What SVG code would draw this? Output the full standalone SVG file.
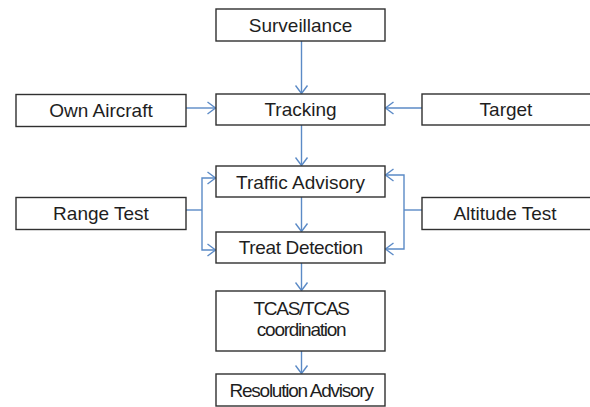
<svg xmlns="http://www.w3.org/2000/svg" width="590" height="407" viewBox="0 0 590 407">
<defs>
<style>
.box{fill:#fff;stroke:#303030;stroke-width:1.4}
.t{font-family:"Liberation Sans",Arial,sans-serif;font-size:19px;fill:#1e1e1e;text-anchor:middle}
.tight{letter-spacing:-1.25px}
.c{fill:none;stroke:#5b8ac6;stroke-width:1.4}
</style>
<marker id="ah" markerUnits="userSpaceOnUse" markerWidth="10" markerHeight="14" viewBox="0 0 10 14" refX="9" refY="7" orient="auto">
<path d="M1,1 L9,7 L1,13" fill="none" stroke="#5b8ac6" stroke-width="1.4"/>
</marker>
</defs>
<rect width="590" height="407" fill="#fff"/>
<g id="connectors">
<path class="c" d="M301.5 41 V93.5" marker-end="url(#ah)"/>
<path class="c" d="M186 108 H215.5" marker-end="url(#ah)"/>
<path class="c" d="M422 108 H385.5" marker-end="url(#ah)"/>
<path class="c" d="M301.5 125 V165.5" marker-end="url(#ah)"/>
<path class="c" d="M301.5 197 V231.5" marker-end="url(#ah)"/>
<path class="c" d="M186 210 H202"/>
<path class="c" d="M202 210 V178 H215.5" marker-end="url(#ah)"/>
<path class="c" d="M202 210 V250 H215.5" marker-end="url(#ah)"/>
<path class="c" d="M422 210 H404"/>
<path class="c" d="M404 210 V175 H385.5" marker-end="url(#ah)"/>
<path class="c" d="M404 210 V249 H385.5" marker-end="url(#ah)"/>
<path class="c" d="M301.5 263 V290.5" marker-end="url(#ah)"/>
<path class="c" d="M301.5 351 V373.5" marker-end="url(#ah)"/>
</g>
<g id="surveillance"><rect class="box" x="216" y="9" width="169" height="32"/><text class="t" x="300.5" y="31.5">Surveillance</text></g>
<g id="own-aircraft"><rect class="box" x="16" y="94.5" width="170" height="32"/><text class="t" x="101" y="116.5">Own Aircraft</text></g>
<g id="tracking"><rect class="box" x="216" y="94" width="169" height="31"/><text class="t" x="300.5" y="116">Tracking</text></g>
<g id="target"><rect class="box" x="422" y="94" width="170" height="31"/><text class="t" x="506" y="116">Target</text></g>
<g id="traffic-advisory"><rect class="box" x="216" y="166" width="169" height="31"/><text class="t" x="300.5" y="188.5">Traffic Advisory</text></g>
<g id="range-test"><rect class="box" x="16" y="197.5" width="170" height="32"/><text class="t" x="101" y="219.5">Range Test</text></g>
<g id="altitude-test"><rect class="box" x="422" y="197.5" width="170" height="32"/><text class="t" x="505" y="219.5">Altitude Test</text></g>
<g id="treat-detection"><rect class="box" x="216" y="232" width="169" height="31"/><text class="t" x="300.7" y="253.5" style="letter-spacing:-0.35px">Treat Detection</text></g>
<g id="tcas-coordination"><rect class="box" x="216" y="291" width="169" height="60"/><text class="t tight" x="301.1" y="315">TCAS/TCAS</text><text class="t tight" x="301.1" y="335.5">coordination</text></g>
<g id="resolution-advisory"><rect class="box" x="216" y="374" width="169" height="32"/><text class="t tight" x="301.1" y="397">Resolution Advisory</text></g>
</svg>
